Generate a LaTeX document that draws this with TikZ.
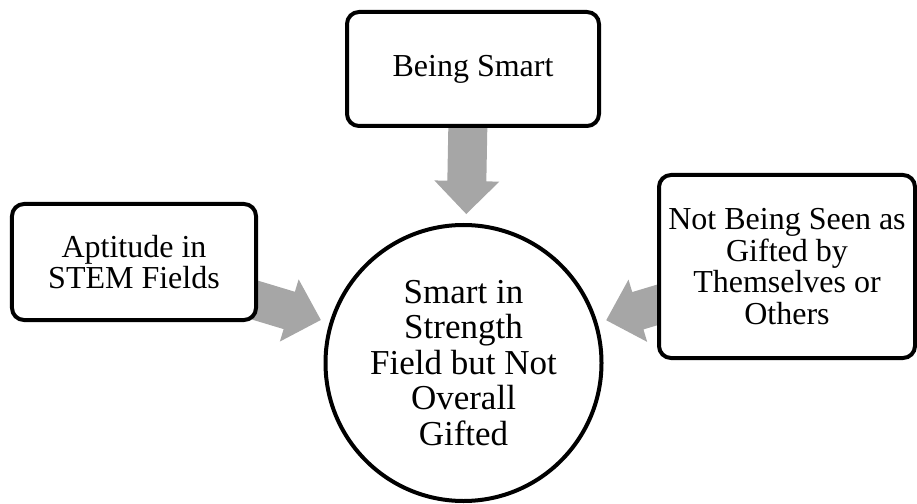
\documentclass[tikz,border=0pt]{standalone}
\usepackage{fontspec}
\setmainfont{Liberation Serif}
\usetikzlibrary{calc}
\definecolor{arrowgray}{RGB}{166,166,166}

% Block arrow from a start coordinate towards the centre of a target node,
% stopping a little short of the node's border.
\newcommand\drawfatarrow[2]{%
  \coordinate (#1-tip) at ($(#2.center)!149bp!(#1)$);
  \coordinate (#1-hb) at ($(#1-tip)!33bp!(#1)$);
  \fill[arrowgray]
    ($(#1)!19.5bp!90:(#1-tip)$) --
    ($(#1-hb)!19.5bp!-90:(#1)$) --
    ($(#1-hb)!32.5bp!-90:(#1)$) --
    (#1-tip) --
    ($(#1-hb)!32.5bp!90:(#1)$) --
    ($(#1-hb)!19.5bp!90:(#1)$) --
    ($(#1)!19.5bp!-90:(#1-tip)$) -- cycle;
}

\begin{document}
\begin{tikzpicture}[x=1bp,y=-1bp,
  box/.style={draw=black, line width=4bp, rounded corners=12bp, fill=white,
    align=center, inner sep=4bp,
    font=\fontsize{32bp}{31.5bp}\selectfont},
  hub/.style={draw=black, line width=4bp, circle, fill=white, inner sep=0pt,
    minimum size=276bp, align=center,
    font=\fontsize{35bp}{35.5bp}\selectfont}]
\useasboundingbox (0,0) rectangle (917,504);

% central circle
\node[hub] (c) at (463.5,363) {Smart in\\Strength\\Field but Not\\Overall\\Gifted};

% arrow start points (hidden behind the boxes)
\coordinate (sTop) at (468,118);
\coordinate (sLeft) at (248,298);
\coordinate (sRight) at (667,302);

\drawfatarrow{sTop}{c}
\drawfatarrow{sLeft}{c}
\drawfatarrow{sRight}{c}

% surrounding boxes
\node[box, minimum width=252bp, minimum height=114bp] (smart) at (473,69) {Being Smart};
\node[box, minimum width=244bp, minimum height=116bp] (stem) at (134,262) {Aptitude in\\STEM Fields};
\node[box, minimum width=256bp, minimum height=183bp] (seen) at (787,266.5)
  {Not Being Seen as\\Gifted by\\Themselves or\\Others};
\end{tikzpicture}
\end{document}
